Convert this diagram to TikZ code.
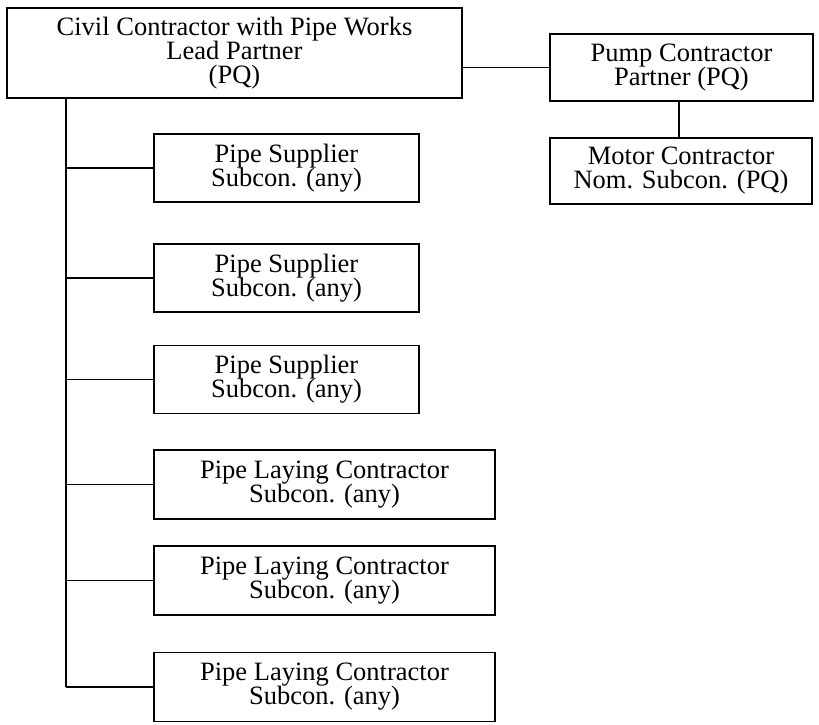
\documentclass[tikz,border=0pt]{standalone}
\usepackage{fontspec}
\setmainfont{Liberation Serif}
% box text: fixed leading, lines never pushed apart
\newcommand{\boxfont}{\fontsize{26.5}{24}\selectfont\lineskiplimit=-50pt\relax}
\begin{document}
\begin{tikzpicture}[x=1pt, y=-1pt,
  orgbox/.style={draw, line width=1.2pt, inner sep=0pt, align=center,
    font=\boxfont},
  supbox/.style={orgbox, minimum width=265pt, minimum height=68pt},
  laybox/.style={orgbox, minimum width=341pt, minimum height=69pt},
  link/.style={line width=1.2pt}]
\useasboundingbox (0,0) rectangle (819,724);

% lead partner and its partner chain
\node[orgbox, minimum width=455pt, minimum height=90pt] (lead) at (234.5,53)
  {Civil Contractor with Pipe Works\\Lead Partner\\(PQ)};
\node[orgbox, minimum width=263pt, minimum height=67pt] (pump) at (681.5,67.5)
  {Pump Contractor\\Partner (PQ)};
\node[orgbox, minimum width=262pt, minimum height=66pt] (motor) at (681,171)
  {Motor Contractor\\Nom. Subcon. (PQ)};

% subcontractors
\node[supbox] (s1) at (286.5,168) {Pipe Supplier\\Subcon. (any)};
\node[supbox] (s2) at (286.5,278) {Pipe Supplier\\Subcon. (any)};
\node[supbox] (s3) at (286.5,379.5) {Pipe Supplier\\Subcon. (any)};
\node[laybox] (l1) at (324.5,484.5) {Pipe Laying Contractor\\Subcon. (any)};
\node[laybox] (l2) at (324.5,580.5) {Pipe Laying Contractor\\Subcon. (any)};
\node[laybox] (l3) at (324.5,687) {Pipe Laying Contractor\\Subcon. (any)};

% connectors
\draw[link] (pump.west -| lead.east) -- (pump.west);
\draw[link] (pump.south -| 679,0) -- (motor.north -| 679,0);
\coordinate (spine) at (66,98);
\draw[link] (spine) -- (spine |- l3.west);
\foreach \b in {s1,s2,s3,l1,l2,l3}
  \draw[link] (spine |- \b.west) -- (\b.west);
\end{tikzpicture}
\end{document}
